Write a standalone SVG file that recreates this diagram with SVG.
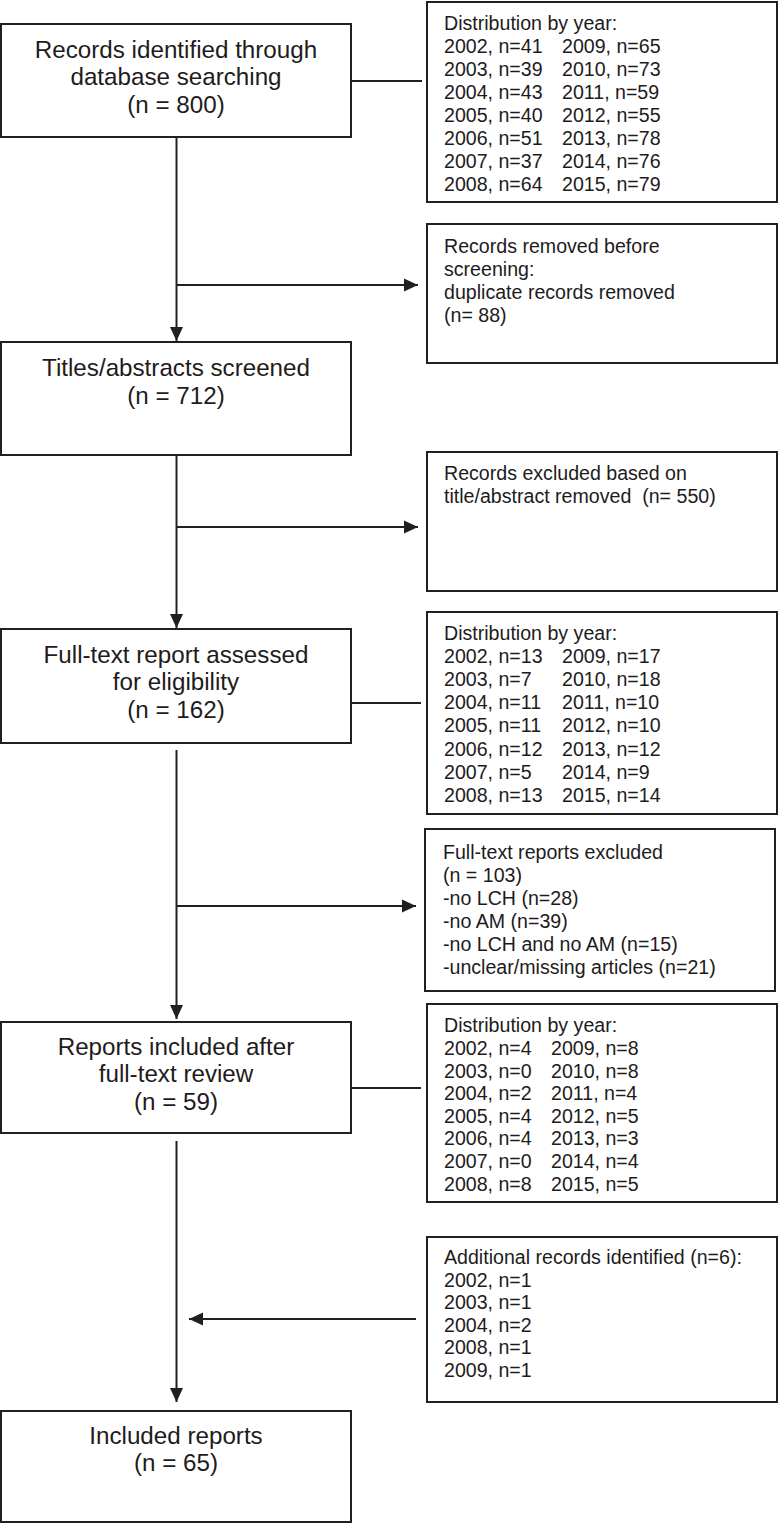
<svg xmlns="http://www.w3.org/2000/svg" width="778" height="1534" viewBox="0 0 778 1534">
<style>
  .box { fill: #ffffff; stroke: #231f20; stroke-width: 2; }
  .main { font-family: "Liberation Sans", Arial, sans-serif; font-size: 24.2px; fill: #1e1b1c; text-anchor: middle; }
  .side { font-family: "Liberation Sans", Arial, sans-serif; font-size: 19.6px; fill: #1e1b1c; }
  .conn { stroke: #231f20; stroke-width: 2; fill: none; }
  .arr { marker-end: url(#ah); }
</style>
<defs>
  <marker id="ah" markerUnits="userSpaceOnUse" markerWidth="15" markerHeight="14" viewBox="0 0 15 14" refX="14" refY="7" orient="auto">
    <path d="M0,0.5 L14,7 L0,13.5 Z" fill="#231f20"/>
  </marker>
</defs>
<rect width="778" height="1534" fill="#ffffff"/>

<g id="connectors">
  <line class="conn" x1="352" y1="81" x2="422" y2="81"/>
  <line class="conn arr" x1="176.5" y1="137" x2="176.5" y2="341"/>
  <line class="conn arr" x1="176.5" y1="285" x2="418" y2="285"/>
  <line class="conn arr" x1="176.5" y1="455" x2="176.5" y2="628"/>
  <line class="conn arr" x1="176.5" y1="527" x2="418" y2="527"/>
  <line class="conn" x1="352" y1="703" x2="421" y2="703"/>
  <line class="conn arr" x1="176.5" y1="750" x2="176.5" y2="1019"/>
  <line class="conn arr" x1="176.5" y1="906" x2="416" y2="906"/>
  <line class="conn" x1="352" y1="1088" x2="421" y2="1088"/>
  <line class="conn arr" x1="176.5" y1="1141" x2="176.5" y2="1402"/>
  <line class="conn arr" x1="416" y1="1319" x2="189" y2="1319"/>
</g>

<g id="node-identified">
  <rect class="box" x="1" y="24" width="350" height="113"/>
  <text class="main" x="176" y="58">Records identified through</text>
  <text class="main" x="176" y="85">database searching</text>
  <text class="main" x="176" y="113">(n = 800)</text>
</g>

<g id="node-dist1">
  <rect class="box" x="427" y="2" width="350" height="200"/>
  <text class="side" x="444" y="30">Distribution by year:</text>
  <text class="side" x="444" y="53">2002, n=41</text><text class="side" x="562" y="53">2009, n=65</text>
  <text class="side" x="444" y="76">2003, n=39</text><text class="side" x="562" y="76">2010, n=73</text>
  <text class="side" x="444" y="99">2004, n=43</text><text class="side" x="562" y="99">2011, n=59</text>
  <text class="side" x="444" y="122">2005, n=40</text><text class="side" x="562" y="122">2012, n=55</text>
  <text class="side" x="444" y="145">2006, n=51</text><text class="side" x="562" y="145">2013, n=78</text>
  <text class="side" x="444" y="168">2007, n=37</text><text class="side" x="562" y="168">2014, n=76</text>
  <text class="side" x="444" y="191">2008, n=64</text><text class="side" x="562" y="191">2015, n=79</text>
</g>

<g id="node-removed">
  <rect class="box" x="427" y="224" width="350" height="139"/>
  <text class="side" x="444" y="253">Records removed before</text>
  <text class="side" x="444" y="276">screening:</text>
  <text class="side" x="444" y="299">duplicate records removed</text>
  <text class="side" x="444" y="322">(n= 88)</text>
</g>

<g id="node-screened">
  <rect class="box" x="1" y="342" width="350" height="113"/>
  <text class="main" x="176" y="376">Titles/abstracts screened</text>
  <text class="main" x="176" y="404">(n = 712)</text>
</g>

<g id="node-excluded-title">
  <rect class="box" x="427" y="452" width="350" height="139"/>
  <text class="side" x="444" y="480">Records excluded based on</text>
  <text class="side" x="444" y="503" xml:space="preserve">title/abstract removed  (n= 550)</text>
</g>

<g id="node-fulltext">
  <rect class="box" x="1" y="629" width="350" height="114"/>
  <text class="main" x="176" y="663">Full-text report assessed</text>
  <text class="main" x="176" y="690">for eligibility</text>
  <text class="main" x="176" y="718">(n = 162)</text>
</g>

<g id="node-dist2">
  <rect class="box" x="427" y="612" width="350" height="202"/>
  <text class="side" x="444" y="640">Distribution by year:</text>
  <text class="side" x="444" y="663">2002, n=13</text><text class="side" x="562" y="663">2009, n=17</text>
  <text class="side" x="444" y="686">2003, n=7</text><text class="side" x="562" y="686">2010, n=18</text>
  <text class="side" x="444" y="709">2004, n=11</text><text class="side" x="562" y="709">2011, n=10</text>
  <text class="side" x="444" y="732">2005, n=11</text><text class="side" x="562" y="732">2012, n=10</text>
  <text class="side" x="444" y="756">2006, n=12</text><text class="side" x="562" y="756">2013, n=12</text>
  <text class="side" x="444" y="779">2007, n=5</text><text class="side" x="562" y="779">2014, n=9</text>
  <text class="side" x="444" y="802">2008, n=13</text><text class="side" x="562" y="802">2015, n=14</text>
</g>

<g id="node-excluded-fulltext">
  <rect class="box" x="425" y="829" width="350" height="162"/>
  <text class="side" x="443" y="859">Full-text reports excluded</text>
  <text class="side" x="443" y="882">(n = 103)</text>
  <text class="side" x="443" y="905">-no LCH (n=28)</text>
  <text class="side" x="443" y="928">-no AM (n=39)</text>
  <text class="side" x="443" y="951">-no LCH and no AM (n=15)</text>
  <text class="side" x="443" y="974">-unclear/missing articles (n=21)</text>
</g>

<g id="node-included-after">
  <rect class="box" x="1" y="1022" width="350" height="111"/>
  <text class="main" x="176" y="1055">Reports included after</text>
  <text class="main" x="176" y="1082">full-text review</text>
  <text class="main" x="176" y="1110">(n = 59)</text>
</g>

<g id="node-dist3">
  <rect class="box" x="427" y="1004" width="350" height="198"/>
  <text class="side" x="444" y="1032">Distribution by year:</text>
  <text class="side" x="444" y="1055">2002, n=4</text><text class="side" x="551" y="1055">2009, n=8</text>
  <text class="side" x="444" y="1078">2003, n=0</text><text class="side" x="551" y="1078">2010, n=8</text>
  <text class="side" x="444" y="1100">2004, n=2</text><text class="side" x="551" y="1100">2011, n=4</text>
  <text class="side" x="444" y="1123">2005, n=4</text><text class="side" x="551" y="1123">2012, n=5</text>
  <text class="side" x="444" y="1145">2006, n=4</text><text class="side" x="551" y="1145">2013, n=3</text>
  <text class="side" x="444" y="1168">2007, n=0</text><text class="side" x="551" y="1168">2014, n=4</text>
  <text class="side" x="444" y="1191">2008, n=8</text><text class="side" x="551" y="1191">2015, n=5</text>
</g>

<g id="node-additional">
  <rect class="box" x="427" y="1237" width="350" height="165"/>
  <text class="side" x="444" y="1264">Additional records identified (n=6):</text>
  <text class="side" x="444" y="1287">2002, n=1</text>
  <text class="side" x="444" y="1309">2003, n=1</text>
  <text class="side" x="444" y="1332">2004, n=2</text>
  <text class="side" x="444" y="1354">2008, n=1</text>
  <text class="side" x="444" y="1377">2009, n=1</text>
</g>

<g id="node-included">
  <rect class="box" x="1" y="1411" width="350" height="111"/>
  <text class="main" x="176" y="1444">Included reports</text>
  <text class="main" x="176" y="1471">(n = 65)</text>
</g>
</svg>
